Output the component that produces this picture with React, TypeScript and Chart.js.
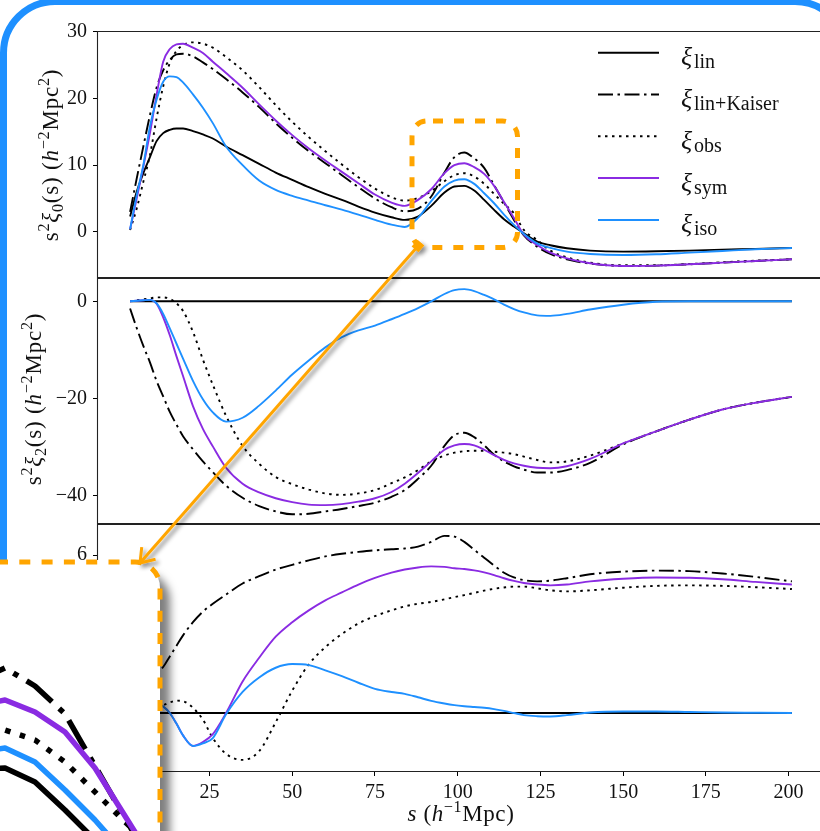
import React, { useEffect, useRef } from "react";
import { Chart, registerables } from "chart.js";
Chart.register(...registerables);

const FONT = "'Liberation Serif', 'DejaVu Serif', serif";

// separation s (h^-1 Mpc)
const S = [1, 3, 5, 7, 9, 11, 13, 15, 17, 20, 23, 26, 30, 35, 40, 45, 50, 55, 60, 65, 70, 75, 80, 84, 88, 92, 96, 99, 102, 105, 108, 111, 114, 117, 120, 124, 128, 133, 140, 150, 160, 170, 180, 190, 201];

// monopole s^2 xi_0
const LIN0 = [2.3, 6.0, 8.8, 11.2, 13.6, 14.8, 15.3, 15.5, 15.5, 15.1, 14.6, 14.0, 12.8, 11.5, 10.2, 8.9, 7.8, 6.7, 5.7, 4.8, 3.8, 2.9, 2.2, 1.8, 2.3, 3.9, 5.9, 6.8, 6.9, 6.2, 4.8, 3.3, 1.9, 0.8, -0.2, -1.45, -2.0, -2.45, -2.8, -2.95, -2.9, -2.8, -2.65, -2.55, -2.4];
const KAI0 = [3.0, 8.0, 12.8, 17.5, 21.6, 24.2, 25.8, 26.6, 26.7, 26.3, 25.4, 24.4, 22.9, 20.9, 18.7, 16.3, 14.1, 12.1, 10.3, 8.5, 6.7, 5.0, 3.7, 3.1, 3.5, 5.3, 8.9, 11.2, 11.9, 11.0, 9.6, 7.0, 4.4, 1.8, -0.5, -2.2, -3.3, -4.1, -4.75, -5.1, -5.05, -4.85, -4.6, -4.35, -4.1];
const OBS0 = [0.3, 3.5, 7.5, 11.5, 17.0, 21.8, 25.3, 27.1, 28.0, 28.4, 28.2, 27.6, 26.2, 24.2, 21.7, 19.0, 16.5, 14.2, 12.1, 10.1, 8.2, 6.5, 5.2, 4.7, 5.1, 6.1, 7.6, 8.5, 8.8, 8.3, 7.2, 5.7, 4.2, 2.8, 0.3, -1.2, -2.8, -3.8, -4.6, -5.0, -5.0, -4.8, -4.55, -4.3, -4.1];
const SYM0 = [0.4, 5.0, 9.8, 14.8, 20.5, 25.5, 27.4, 28.1, 28.2, 27.6, 26.8, 25.5, 23.8, 21.6, 19.1, 16.7, 14.5, 12.5, 10.7, 9.0, 7.3, 5.6, 4.4, 3.9, 4.8, 6.4, 8.8, 10.0, 10.3, 9.7, 8.7, 6.9, 4.5, 2.1, -0.4, -1.95, -3.1, -3.95, -4.7, -5.1, -5.05, -4.85, -4.6, -4.35, -4.1];
const ISO0 = [0.4, 5.5, 10.0, 15.8, 19.8, 22.5, 23.3, 23.2, 22.4, 20.6, 18.6, 16.3, 12.8, 10.0, 7.7, 6.3, 5.4, 4.7, 4.0, 3.35, 2.6, 1.8, 1.1, 0.75, 2.1, 4.6, 6.8, 7.7, 7.9, 7.2, 5.8, 4.3, 2.6, 1.05, -0.3, -1.7, -2.4, -2.95, -3.3, -3.45, -3.35, -3.1, -2.85, -2.6, -2.4];

// quadrupole s^2 xi_2
const LIN2 = [0, 0, 0, 0, 0, 0, 0, 0, 0, 0, 0, 0, 0, 0, 0, 0, 0, 0, 0, 0, 0, 0, 0, 0, 0, 0, 0, 0, 0, 0, 0, 0, 0, 0, 0, 0, 0, 0, 0, 0, 0, 0, 0, 0, 0];
const KAI2 = [-1.5, -5.5, -9.2, -12.6, -16.4, -19.6, -22.8, -25.4, -27.8, -30.5, -33.0, -35.2, -38.0, -40.5, -42.2, -43.3, -43.9, -43.8, -43.3, -42.8, -42.2, -41.5, -40.3, -38.9, -36.6, -33.9, -29.8, -27.6, -27.1, -28.0, -29.7, -31.6, -33.0, -34.0, -34.7, -35.3, -35.3, -34.8, -33.3, -29.5, -26.8, -24.4, -22.3, -20.9, -19.7];
const OBS2 = [0, 0.2, 0.4, 0.6, 0.8, 0.8, 0.5, -0.4, -2.0, -6.3, -12.0, -17.2, -23.6, -29.8, -33.5, -36.2, -37.7, -38.8, -39.6, -39.9, -39.6, -38.9, -37.5, -36.3, -34.8, -33.0, -31.8, -31.2, -30.9, -30.8, -30.8, -31.0, -31.2, -31.5, -32.0, -32.7, -33.2, -33.0, -31.8, -29.3, -26.8, -24.4, -22.3, -20.9, -19.7];
const SYM2 = [0, 0.1, 0.2, 0.3, -0.5, -3.3, -7.0, -11.3, -15.4, -21.6, -26.3, -29.9, -34.3, -37.6, -39.4, -40.6, -41.4, -41.9, -42.0, -41.8, -41.3, -40.6, -39.3, -37.6, -35.4, -33.0, -30.6, -29.7, -29.4, -29.7, -30.6, -31.7, -32.7, -33.4, -33.9, -34.3, -34.4, -34.0, -32.5, -29.3, -26.8, -24.4, -22.3, -20.9, -19.7];
const ISO2 = [0, 0.1, 0.2, 0.3, -0.4, -2.6, -5.6, -8.7, -11.8, -16.4, -20.2, -22.9, -24.8, -24.0, -21.5, -18.4, -15.1, -12.2, -9.5, -7.4, -6.0, -5.0, -3.7, -2.6, -1.4, 0.0, 1.5, 2.3, 2.5, 2.1, 1.3, 0.4, -0.7, -1.6, -2.3, -2.9, -3.0, -2.6, -1.7, -0.7, -0.1, 0, 0, 0, 0];

// hexadecapole s^2 xi_4
const LIN4 = [0, 0, 0, 0, 0, 0, 0, 0, 0, 0, 0, 0, 0, 0, 0, 0, 0, 0, 0, 0, 0, 0, 0, 0, 0, 0, 0, 0, 0, 0, 0, 0, 0, 0, 0, 0, 0, 0, 0, 0, 0, 0, 0, 0, 0];
const KAI4 = [0.1, 0.5, 0.85, 1.2, 1.5, 1.75, 2.15, 2.55, 2.95, 3.45, 3.85, 4.15, 4.5, 4.92, 5.2, 5.45, 5.63, 5.8, 5.95, 6.05, 6.12, 6.18, 6.22, 6.25, 6.32, 6.5, 6.73, 6.7, 6.5, 6.2, 5.9, 5.6, 5.33, 5.15, 5.05, 5.0, 5.03, 5.12, 5.27, 5.37, 5.41, 5.39, 5.3, 5.17, 5.0];
const OBS4 = [0.0, 0.05, 0.1, 0.18, 0.25, 0.3, 0.4, 0.47, 0.45, 0.2, -0.25, -0.95, -1.55, -1.78, -1.45, -0.35, 0.85, 1.85, 2.5, 3.0, 3.4, 3.68, 3.9, 4.05, 4.15, 4.22, 4.32, 4.4, 4.48, 4.56, 4.65, 4.72, 4.77, 4.8, 4.8, 4.74, 4.66, 4.62, 4.66, 4.76, 4.83, 4.85, 4.83, 4.78, 4.71];
const SYM4 = [0.0, 0.1, 0.2, 0.3, 0.35, 0.25, 0.0, -0.4, -0.85, -1.25, -1.1, -0.8, 0.0, 1.2, 2.1, 2.9, 3.45, 3.9, 4.28, 4.58, 4.88, 5.13, 5.33, 5.45, 5.53, 5.57, 5.55, 5.5, 5.47, 5.42, 5.34, 5.24, 5.12, 5.02, 4.94, 4.88, 4.85, 4.88, 5.0, 5.1, 5.15, 5.14, 5.08, 4.98, 4.88];
const ISO4 = [0.0, 0.1, 0.2, 0.3, 0.35, 0.25, 0.0, -0.4, -0.85, -1.25, -1.15, -0.95, -0.05, 0.8, 1.35, 1.72, 1.86, 1.82, 1.62, 1.4, 1.15, 0.92, 0.8, 0.73, 0.6, 0.46, 0.36, 0.3, 0.26, 0.23, 0.2, 0.15, 0.08, 0.0, -0.08, -0.12, -0.13, -0.08, 0.02, 0.06, 0.06, 0.04, 0.02, 0.01, 0.0];

// axes
const X_MIN = -9;
const X_MAX = 211;
const X_TICKS = [25, 50, 75, 100, 125, 150, 175, 200];
const Y0_RANGE = [-6.9, 30.1];
const Y0_TICKS = [0, 10, 20, 30];
const Y2_RANGE = [-45.9, 4.8];
const Y2_TICKS = [-40, -20, 0];
const Y4_RANGE = [-2.24, 7.18];
const Y4_TICKS = [0, 2, 4, 6];
// zoomed inset window (around the BAO peak of the monopole)
const INSET_X = [101.5, 117.5];
const INSET_Y = [3.75, 17.2];

const LEGEND_LABELS = ["lin", "lin+Kaiser", "obs", "sym", "iso"];
const COLORS = ["#000000", "#000000", "#000000", "#8A2BE2", "#1E90FF"];
const DASHES = [[], [15, 4.5, 2.5, 4.5], [2.5, 4.5], [], []];
const BLUE = "#1E90FF";
const ORANGE = "#FFA500";

type Seg = [string, string];
const Y0_TITLE: Seg[] = [["s", "r"], ["2", "sup"], ["ξ", "i"], ["0", "sub"], ["(s)", "r"], [" (", "r"], ["h", "i"], ["−2", "sup"], ["Mpc", "r"], ["2", "sup"], [")", "r"]];
const Y2_TITLE: Seg[] = [["s", "r"], ["2", "sup"], ["ξ", "i"], ["2", "sub"], ["(s)", "r"], [" (", "r"], ["h", "i"], ["−2", "sup"], ["Mpc", "r"], ["2", "sup"], [")", "r"]];
const Y4_TITLE: Seg[] = [["s", "r"], ["2", "sup"], ["ξ", "i"], ["4", "sub"], ["(s)", "r"], [" (", "r"], ["h", "i"], ["−2", "sup"], ["Mpc", "r"], ["2", "sup"], [")", "r"]];
const X_TITLE: Seg[] = [["s", "i"], [" (", "r"], ["h", "i"], ["−1", "sup"], ["Mpc", "r"], [")", "r"]];

function fontFor(kind: string, size: number) {
  const small = kind.startsWith("sup") || kind.startsWith("sub");
  const italic = kind === "i" || kind === "supi" || kind === "subi";
  const sz = small ? size * 0.7 : size;
  return `${italic ? "italic " : ""}${sz}px ${FONT}`;
}
function shiftFor(kind: string, size: number) {
  if (kind.startsWith("sup")) return -size * 0.4;
  if (kind.startsWith("sub")) return size * 0.2;
  return 0;
}
function drawRich(ctx: CanvasRenderingContext2D, segs: Seg[], x: number, y: number, size: number, spacing: number) {
  const c: any = ctx;
  const prev = c.letterSpacing;
  c.letterSpacing = `${spacing}px`;
  let w = 0;
  for (const [t, k] of segs) {
    ctx.font = fontFor(k, size);
    w += ctx.measureText(t).width;
  }
  let cx = x - w / 2;
  ctx.textAlign = "left";
  ctx.textBaseline = "alphabetic";
  for (const [t, k] of segs) {
    ctx.font = fontFor(k, size);
    ctx.fillText(t, cx, y + shiftFor(k, size));
    cx += ctx.measureText(t).width;
  }
  c.letterSpacing = prev || "0px";
}

const fmt = (v: number) => (v < 0 ? "\u2212" + Math.abs(v) : String(v));

function makeDatasets(cols: number[][], lw: number, dashScale: number, smooth: boolean) {
  const ds = cols.map((col, i) => ({
    label: LEGEND_LABELS[i],
    data: S.map((s, j) => ({ x: s, y: col[j] })),
    borderColor: COLORS[i],
    borderWidth: lw,
    borderDash: DASHES[i].map((d) => d * dashScale),
    borderCapStyle: "butt",
    borderJoinStyle: "round",
    pointRadius: 0,
    fill: false,
    tension: 0,
    cubicInterpolationMode: smooth ? "monotone" : "default",
  }));
  return ds.reverse(); // first drawn = lin, last drawn (top) = iso
}

function decoPlugin(p: { yTitle: Seg[]; yTitleX: number; yTitleY: number; legend?: boolean; xTitleY?: number }) {
  return {
    id: "deco",
    afterDraw(chart: any) {
      const ctx: CanvasRenderingContext2D = chart.ctx;
      const a = chart.chartArea;
      ctx.save();
      ctx.strokeStyle = "#222";
      ctx.lineWidth = 1.1;
      ctx.setLineDash([]);
      ctx.beginPath();
      ctx.moveTo(a.left, a.top + 0.5);
      ctx.lineTo(a.right, a.top + 0.5);
      ctx.moveTo(a.left, a.bottom - 0.5);
      ctx.lineTo(a.right, a.bottom - 0.5);
      ctx.moveTo(a.left + 0.5, a.top);
      ctx.lineTo(a.left + 0.5, a.bottom);
      ctx.moveTo(a.right - 0.5, a.top);
      ctx.lineTo(a.right - 0.5, a.bottom);
      ctx.stroke();

      ctx.fillStyle = "#111";
      ctx.save();
      ctx.translate(p.yTitleX, p.yTitleY);
      ctx.rotate(-Math.PI / 2);
      drawRich(ctx, p.yTitle, 0, 0, 23, 0.8);
      ctx.restore();

      if (p.xTitleY !== undefined) {
        drawRich(ctx, X_TITLE, (a.left + a.right) / 2, p.xTitleY, 23, 0.6);
      }

      if (p.legend) {
        LEGEND_LABELS.forEach((lab, i) => {
          const y = 52.7 + 41.8 * i;
          ctx.strokeStyle = COLORS[i];
          ctx.lineWidth = 2;
          ctx.setLineDash(DASHES[i]);
          ctx.beginPath();
          ctx.moveTo(598, y);
          ctx.lineTo(659, y);
          ctx.stroke();
          ctx.setLineDash([]);
          ctx.fillStyle = "#111";
          ctx.textAlign = "left";
          ctx.textBaseline = "alphabetic";
          ctx.font = `italic 26px ${FONT}`;
          ctx.fillText("ξ", 681, y + 12.5);
          ctx.font = `20px ${FONT}`;
          ctx.fillText(lab, 694, y + 15.5);
        });
      }
      ctx.restore();
    },
  };
}

function panelConfig(p: {
  cols: number[][];
  range: number[];
  yTicks: number[];
  showX: boolean;
  padTop: number;
  deco: any;
}) {
  const xScale: any = {
    type: "linear",
    min: X_MIN,
    max: X_MAX,
    display: p.showX,
  };
  if (p.showX) {
    Object.assign(xScale, {
      position: "bottom",
      afterBuildTicks: (s: any) => {
        s.ticks = X_TICKS.map((v) => ({ value: v }));
      },
      afterFit: (s: any) => {
        s.height = 59;
        s.paddingLeft = 0;
        s.paddingRight = 0;
      },
      grid: { display: true, drawOnChartArea: false, drawTicks: true, tickLength: 4, color: "#000", lineWidth: 1 },
      border: { display: false },
      ticks: {
        font: { family: FONT, size: 20 },
        color: "#111",
        padding: 5,
        autoSkip: false,
        maxRotation: 0,
        minRotation: 0,
        callback: (v: number) => fmt(v),
      },
    });
  }
  return {
    type: "line",
    data: { datasets: makeDatasets(p.cols, 1.9, 1, true) },
    options: {
      animation: false,
      responsive: false,
      maintainAspectRatio: false,
      devicePixelRatio: 1,
      events: [],
      layout: { padding: { top: p.padTop, right: 15, bottom: 0, left: 0 } },
      plugins: { legend: { display: false }, tooltip: { enabled: false }, title: { display: false } },
      scales: {
        x: xScale,
        y: {
          type: "linear",
          min: p.range[0],
          max: p.range[1],
          afterBuildTicks: (s: any) => {
            s.ticks = p.yTicks.map((v) => ({ value: v }));
          },
          afterFit: (s: any) => {
            s.width = 97;
            s.paddingTop = 0;
            s.paddingBottom = 0;
          },
          grid: { display: true, drawOnChartArea: false, drawTicks: true, tickLength: 4, color: "#000", lineWidth: 1 },
          border: { display: false },
          ticks: {
            font: { family: FONT, size: 20 },
            color: "#111",
            padding: 6,
            autoSkip: false,
            callback: (v: number) => fmt(v),
          },
        },
      },
    },
    plugins: [p.deco],
  };
}

function insetConfig() {
  return {
    type: "line",
    data: { datasets: makeDatasets([LIN0, KAI0, OBS0, SYM0, ISO0], 5.5, 2.2, false) },
    options: {
      animation: false,
      responsive: false,
      maintainAspectRatio: false,
      devicePixelRatio: 1,
      events: [],
      layout: { padding: 0 },
      plugins: { legend: { display: false }, tooltip: { enabled: false } },
      scales: {
        x: { type: "linear", min: INSET_X[0], max: INSET_X[1], display: false },
        y: { type: "linear", min: INSET_Y[0], max: INSET_Y[1], display: false },
      },
    },
  };
}

export default function App() {
  const c1 = useRef<HTMLCanvasElement>(null);
  const c2 = useRef<HTMLCanvasElement>(null);
  const c3 = useRef<HTMLCanvasElement>(null);
  const c4 = useRef<HTMLCanvasElement>(null);

  useEffect(() => {
    const charts: Chart[] = [];
    charts.push(
      new Chart(c1.current as HTMLCanvasElement, panelConfig({
        cols: [LIN0, KAI0, OBS0, SYM0, ISO0],
        range: Y0_RANGE,
        yTicks: Y0_TICKS,
        showX: false,
        padTop: 31,
        deco: decoPlugin({ yTitle: Y0_TITLE, yTitleX: 58, yTitleY: 155, legend: true }),
      }) as any)
    );
    charts.push(
      new Chart(c2.current as HTMLCanvasElement, panelConfig({
        cols: [LIN2, KAI2, OBS2, SYM2, ISO2],
        range: Y2_RANGE,
        yTicks: Y2_TICKS,
        showX: false,
        padTop: 0,
        deco: decoPlugin({ yTitle: Y2_TITLE, yTitleX: 41, yTitleY: 121 }),
      }) as any)
    );
    charts.push(
      new Chart(c3.current as HTMLCanvasElement, panelConfig({
        cols: [LIN4, KAI4, OBS4, SYM4, ISO4],
        range: Y4_RANGE,
        yTicks: Y4_TICKS,
        showX: true,
        padTop: 0,
        deco: decoPlugin({ yTitle: Y4_TITLE, yTitleX: 58, yTitleY: 124, xTitleY: 297 }),
      }) as any)
    );
    charts.push(new Chart(c4.current as HTMLCanvasElement, insetConfig() as any));
    return () => charts.forEach((c) => c.destroy());
  }, []);

  // arrow geometry (decoration)
  const tail = [418, 246];
  const tip = [140, 563];
  const len = Math.hypot(tail[0] - tip[0], tail[1] - tip[1]);
  const bx = (tail[0] - tip[0]) / len;
  const by = (tail[1] - tip[1]) / len;
  const ang = (35 * Math.PI) / 180;
  const wl = 16;
  const w1 = [tip[0] + wl * (bx * Math.cos(ang) - by * Math.sin(ang)), tip[1] + wl * (bx * Math.sin(ang) + by * Math.cos(ang))];
  const w2 = [tip[0] + wl * (bx * Math.cos(ang) + by * Math.sin(ang)), tip[1] + wl * (-bx * Math.sin(ang) + by * Math.cos(ang))];
  const rotDeg = (Math.atan2(by, bx) * 180) / Math.PI;

  const abs = (l: number, t: number, w: number, h: number): React.CSSProperties => ({
    position: "absolute",
    left: l,
    top: t,
    width: w,
    height: h,
  });

  return (
    <div style={{ position: "fixed", left: 0, top: 0, width: 820, height: 831, overflow: "hidden", background: "#fff" }}>
      <div
        style={{
          position: "absolute",
          left: 0,
          top: -2,
          width: 850,
          height: 1000,
          border: `7px solid ${BLUE}`,
          borderRadius: 55,
          boxSizing: "border-box",
        }}
      />
      <canvas ref={c1} width={840} height={278} style={abs(0, 0, 840, 278)} />
      <canvas ref={c2} width={840} height={246} style={abs(0, 278, 840, 246)} />
      <canvas ref={c3} width={840} height={307} style={abs(0, 524, 840, 307)} />
      <svg width={820} height={831} style={{ position: "absolute", left: 0, top: 0 }}>
        <rect x={412} y={121} width={105.5} height={126.5} rx={15} ry={15} fill="none" stroke={ORANGE} strokeWidth={5} strokeDasharray="10 11" strokeDashoffset={15} />
      </svg>
      <div
        style={{
          position: "absolute",
          left: -20,
          top: 559.5,
          width: 180,
          height: 400,
          background: "#fff",
          borderTopRightRadius: 28,
          boxShadow: "10px 12px 8px rgba(0,0,0,0.5)",
          overflow: "hidden",
        }}
      >
        <canvas ref={c4} width={160} height={269} style={abs(20, 2.5, 160, 269)} />
      </div>
      <svg width={820} height={831} style={{ position: "absolute", left: 0, top: 0, overflow: "visible" }}>
        <defs>
          <filter id="ash" x="-30%" y="-30%" width="160%" height="160%">
            <feDropShadow dx={3} dy={3} stdDeviation={2} floodColor="#000" floodOpacity={0.45} />
          </filter>
        </defs>
        <path d="M -3 562 H 135 A 25 25 0 0 1 160 587 V 840" fill="none" stroke={ORANGE} strokeWidth={5} strokeDasharray="11 11.3" />
        <g filter="url(#ash)">
          <line x1={tail[0]} y1={tail[1]} x2={tip[0]} y2={tip[1]} stroke={ORANGE} strokeWidth={3} />
          <polyline points={`${w1[0]},${w1[1]} ${tip[0]},${tip[1]} ${w2[0]},${w2[1]}`} fill="none" stroke={ORANGE} strokeWidth={3} />
          <rect x={tail[0] - 4.5} y={tail[1] - 4.5} width={9} height={9} fill={ORANGE} transform={`rotate(${rotDeg} ${tail[0]} ${tail[1]})`} />
        </g>
      </svg>
    </div>
  );
}
